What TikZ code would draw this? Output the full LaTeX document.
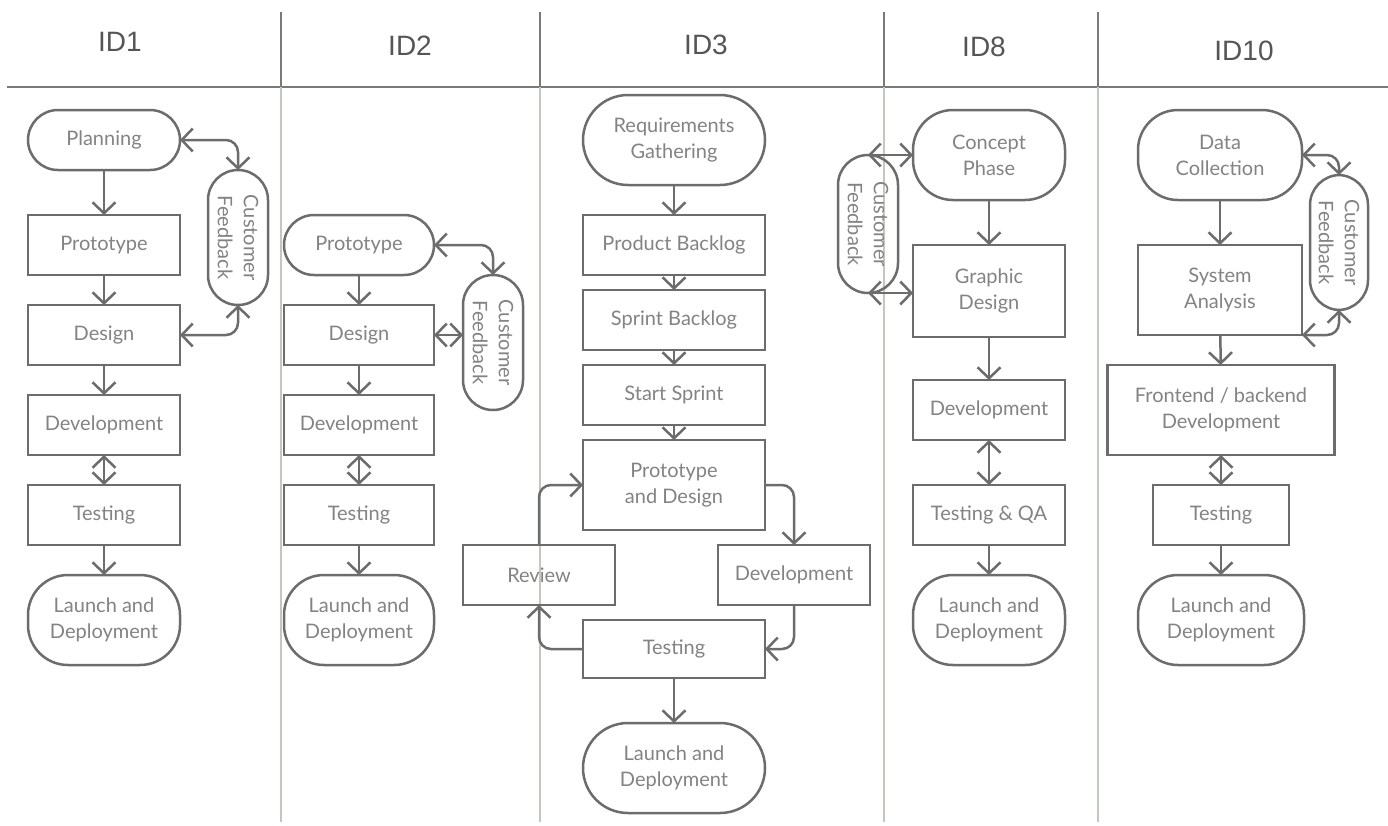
\documentclass[tikz,border=0pt]{standalone}
\usepackage{fontspec}
\setmainfont{Lato}
\newfontfamily\hdrfont{Liberation Sans}
\usetikzlibrary{arrows.meta}

\definecolor{linegray}{HTML}{6C6C6C}
\definecolor{textgray}{HTML}{838383}
\definecolor{headgray}{HTML}{555555}
\definecolor{rulegray}{HTML}{7A7A7A}
\definecolor{lanegray}{HTML}{BFCABF}

\tikzset{
  every node/.style={inner sep=0pt, outer sep=0pt},
  shapebox/.style={draw=linegray, line width=2.5pt, text=textgray,
    align=center, font=\fontsize{20}{26}\selectfont},
  box/.style={shapebox, rectangle, minimum width=152pt, minimum height=60pt},
  stadium/.style={shapebox, rectangle, minimum width=152pt, minimum height=60pt,
    rounded corners=30pt},
  bigstadium/.style={shapebox, rectangle, minimum width=152pt, minimum height=90pt,
    rounded corners=40pt},
  fbbox/.style={draw=linegray, line width=2.5pt, rectangle,
    minimum width=60pt, minimum height=135pt, rounded corners=30pt},
  fbtext/.style={text=textgray, align=center, rotate=-90,
    font=\fontsize{20}{26}\selectfont},
  header/.style={text=headgray, font=\hdrfont\fontsize{28}{32}\selectfont},
  flow/.style={draw=linegray, line width=2.5pt,
    -{Straight Barb[length=11pt,width=23pt]}},
  flow2/.style={draw=linegray, line width=2.5pt,
    {Straight Barb[length=11pt,width=23pt]}-{Straight Barb[length=11pt,width=23pt]}},
  elbow/.style={rounded corners=12pt},
  toprule/.style={draw=rulegray, line width=1.6pt},
  lanerule/.style={draw=lanegray, line width=1.4pt},
}

\begin{document}
\begin{tikzpicture}[x=1pt, y=-1pt]
  \fill[white] (0,0) rectangle (1388,825);
  \useasboundingbox (0,0) rectangle (1388,825);

  % ---- header band and lane separators ----
  \draw[toprule] (7,87) -- (1388,87);
  \foreach \xx in {281,540,884,1098} {
    \draw[toprule] (\xx,12) -- (\xx,87);
    \draw[lanerule] (\xx,87) -- (\xx,822);
  }
  \node[header] (h1) at (120,42) {ID1};
  \node[header] (h2) at (410,46) {ID2};
  \node[header] (h3) at (706,45) {ID3};
  \node[header] (h8) at (984,47) {ID8};
  \node[header] (h10) at (1244,51) {ID10};

  % ---- ID1 ----
  \node[stadium] (pl1) at (104,140) {Planning};
  \node[box] (pr1) at (104,245) {Prototype};
  \node[box] (de1) at (104,335) {Design};
  \node[box] (dv1) at (104,425) {Development};
  \node[box] (te1) at (104,515) {Testing};
  \node[bigstadium] (la1) at (104,620) {Launch and\\Deployment};
  \node[fbbox] (cf1) at (238,237.5) {};
  \node[fbtext] (cf1t) at (cf1) {Customer\\Feedback};

  \draw[flow] (pl1) -- (pr1);
  \draw[flow] (pr1) -- (de1);
  \draw[flow] (de1) -- (dv1);
  \draw[flow2] (dv1) -- (te1);
  \draw[flow] (te1) -- (la1);
  \draw[flow2, elbow] (pl1.east) -| (cf1.north);
  \draw[flow2, elbow] (de1.east) -| (cf1.south);

  % ---- ID2 ----
  \node[stadium, minimum width=150pt] (pr2) at (359,245) {Prototype};
  \node[box, minimum width=150pt] (de2) at (359,335) {Design};
  \node[box, minimum width=150pt] (dv2) at (359,425) {Development};
  \node[box, minimum width=150pt] (te2) at (359,515) {Testing};
  \node[bigstadium, minimum width=150pt] (la2) at (359,620) {Launch and\\Deployment};
  \node[fbbox] (cf2) at (493,342.5) {};
  \node[fbtext] (cf2t) at (cf2) {Customer\\Feedback};

  \draw[flow] (pr2) -- (de2);
  \draw[flow] (de2) -- (dv2);
  \draw[flow2] (dv2) -- (te2);
  \draw[flow] (te2) -- (la2);
  \draw[flow2, elbow] (pr2.east) -| (cf2.north);
  \draw[flow2] (de2.east) -- (de2.east -| cf2.west);

  % ---- ID3 ----
  \node[bigstadium, minimum width=182pt, rounded corners=45pt] (rg) at (674,140) {Requirements\\Gathering};
  \node[box, minimum width=182pt] (pb) at (674,245) {Product Backlog};
  \node[box, minimum width=182pt] (sb) at (674,320) {Sprint Backlog};
  \node[box, minimum width=182pt] (ss) at (674,395) {Start Sprint};
  \node[box, minimum width=182pt, minimum height=90pt] (pd) at (674,485) {Prototype\\and Design};
  \node[box] (rv) at (539,575) {Review};
  \node[box] (dv3) at (794,575) {Development};
  \node[box, minimum width=182pt, minimum height=58pt] (te3) at (674,649) {Testing};
  \node[bigstadium, minimum width=182pt, rounded corners=45pt] (la3) at (674,768) {Launch and\\Deployment};

  \draw[flow] (rg) -- (pb);
  \draw[flow] (pb) -- (sb);
  \draw[flow] (sb) -- (ss);
  \draw[flow] (ss) -- (pd);
  \draw[flow, elbow] (pd.east) -| (dv3.north);
  \draw[flow, elbow] (dv3.south) |- (te3.east);
  \draw[flow, elbow] (te3.west) -| (rv.south);
  \draw[flow, elbow] (rv.north) |- (pd.west);
  \draw[flow] (te3) -- (la3);

  % ---- ID8 ----
  \node[bigstadium] (cp) at (989,155) {Concept\\Phase};
  \node[box, minimum height=92pt] (gd) at (989,291) {Graphic\\Design};
  \node[box] (dv8) at (989,410) {Development};
  \node[box] (tq) at (989,515) {Testing \& QA};
  \node[bigstadium] (la8) at (989,620) {Launch and\\Deployment};
  \node[fbbox, minimum height=138pt] (cf3) at (868,224) {};
  \node[fbtext] (cf3t) at (cf3) {Customer\\Feedback};

  \draw[flow] (cp) -- (gd);
  \draw[flow] (gd) -- (dv8);
  \draw[flow2] (dv8) -- (tq);
  \draw[flow] (tq) -- (la8);
  \draw[flow2] (cf3.north) -- (cf3.north -| cp.west);
  \draw[flow2] (cf3.south) -- (cf3.south -| gd.west);

  % ---- ID10 ----
  \node[bigstadium, minimum width=164pt] (dc) at (1220,155) {Data\\Collection};
  \node[box, minimum width=164pt, minimum height=90pt] (sa) at (1220,290) {System\\Analysis};
  \node[box, minimum width=227pt, minimum height=90pt] (fb) at (1221,410) {Frontend / backend\\Development};
  \node[box, minimum width=136pt] (te10) at (1221,515) {Testing};
  \node[bigstadium, minimum width=166pt] (la10) at (1221,620) {Launch and\\Deployment};
  \node[fbbox, minimum width=58pt] (cf4) at (1339,242.5) {};
  \node[fbtext] (cf4t) at (cf4) {Customer\\Feedback};

  \draw[flow] (dc) -- (sa);
  \draw[flow] (sa) -- (fb);
  \draw[flow2] (fb) -- (te10);
  \draw[flow] (te10) -- (la10);
  \draw[flow2, elbow] (dc.east) -| (cf4.north);
  \draw[flow2, elbow] (sa.south east) -| (cf4.south);
\end{tikzpicture}
\end{document}
